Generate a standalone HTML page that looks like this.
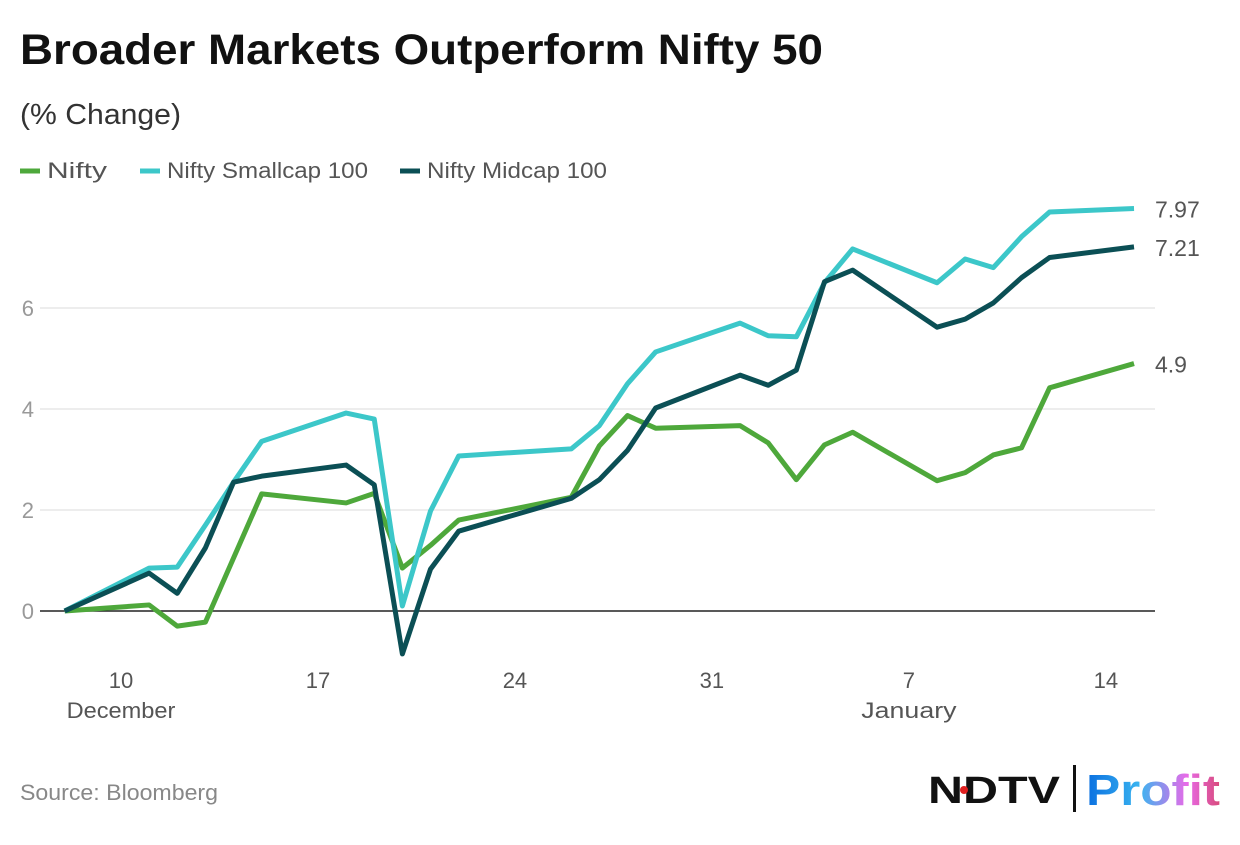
<!DOCTYPE html>
<html><head><meta charset="utf-8"><style>
body{margin:0;background:#fff;width:1240px;height:840px;overflow:hidden;font-family:"Liberation Sans",sans-serif}
</style></head><body>
<svg width="1240" height="840" xmlns="http://www.w3.org/2000/svg">
<defs><linearGradient id="pg" x1="0" x2="1"><stop offset="0" stop-color="#0a6fe0"/><stop offset="0.4" stop-color="#3ab4f0"/><stop offset="0.75" stop-color="#e86ae8"/><stop offset="1" stop-color="#d84a7a"/></linearGradient></defs>
<text x="20" y="64" font-size="43" font-weight="bold" fill="#111" textLength="803" lengthAdjust="spacingAndGlyphs">Broader Markets Outperform Nifty 50</text>
<text x="20" y="124" font-size="29" fill="#333" textLength="161" lengthAdjust="spacingAndGlyphs">(% Change)</text>
<g id="legend" font-size="22" fill="#555"></g>
<g id="grid"></g><g id="lines"></g>
<text x="20" y="800" font-size="22" fill="#888" textLength="198" lengthAdjust="spacingAndGlyphs">Source: Bloomberg</text>
<g>
<text x="928" y="803" font-size="38" font-weight="bold" fill="#111" textLength="132" lengthAdjust="spacingAndGlyphs">NDTV</text>
<circle cx="964" cy="790" r="4" fill="#e02020"/>
<rect x="1073" y="765" width="3" height="47" fill="#111"/>
<text x="1086" y="805" font-size="44" font-weight="bold" fill="url(#pg)" textLength="134" lengthAdjust="spacingAndGlyphs">Profit</text>
</g>
</svg>
<script>
const days=[0,3,4,5,6,7,10,11,12,13,14,18,19,20,21,24,25,26,27,28,31,32,33,34,35,38];
const nifty=[0,0.12,-0.3,-0.22,1.05,2.32,2.14,2.33,0.85,1.3,1.8,2.25,3.27,3.87,3.62,3.67,3.33,2.6,3.29,3.54,2.58,2.74,3.09,3.23,4.42,4.9];
const smallcap=[0,0.85,0.87,1.7,2.55,3.36,3.92,3.8,0.1,1.98,3.07,3.21,3.67,4.5,5.13,5.7,5.45,5.43,6.5,7.17,6.5,6.97,6.8,7.41,7.9,7.97];
const midcap=[0,0.75,0.35,1.25,2.55,2.67,2.89,2.5,-0.85,0.83,1.58,2.23,2.6,3.18,4.02,4.67,4.47,4.77,6.52,6.75,5.62,5.78,6.1,6.6,7.0,7.21];
const yTicks=[0,2,4,6];
const xTickDays=[2,9,16,23,30,37];
const xTickLabels=["10","17","24","31","7","14"];
const monthLabels=[["December",2],["January",30]];
const endLabels=["4.9","7.97","7.21"];
const NS="http://www.w3.org/2000/svg";
const X=d=>64.7+d*28.14, Y=v=>611-v*50.5;
function mk(t,a,p){const e=document.createElementNS(NS,t);for(const k in a)e.setAttribute(k,a[k]);p.appendChild(e);return e;}
const grid=document.getElementById('grid');
yTicks.forEach(v=>{
 const l=mk('line',{x1:40,x2:1155,y1:Y(v),y2:Y(v),stroke:v===0?'#222':'#e2e2e2','stroke-width':v===0?1.5:1.2},grid);
 
 
 const t=mk('text',{x:34,y:Y(v)+8,'font-size':22,fill:'#999','text-anchor':'end'},grid);t.textContent=v;
 
 
});
xTickDays.forEach((d,i)=>{
 const t=mk('text',{x:X(d),y:688,'font-size':22,fill:'#555','text-anchor':'middle'},grid);t.textContent=xTickLabels[i];
 
 
});
monthLabels.forEach(m=>{
 const t=mk('text',{x:X(m[1]),y:718,'font-size':22,fill:'#555','text-anchor':'middle',textLength:m[0].length*13.6,lengthAdjust:'spacingAndGlyphs'},grid);t.textContent=m[0];
 
 
});
const series=[["Nifty",nifty,"#4ea83b"],["Nifty Smallcap 100",smallcap,"#3cc7c9"],["Nifty Midcap 100",midcap,"#0b4f55"]];
const legX=[20,140,400];
const legW=[60,201,180];
const lg=document.getElementById('legend');
const lines=document.getElementById('lines');
series.forEach((s,i)=>{
 const lx=legX[i];
 mk('line',{x1:lx,x2:lx+20,y1:171,y2:171,stroke:s[2],'stroke-width':5},lg);
 const t=mk('text',{x:lx+27,y:178,textLength:legW[i],lengthAdjust:'spacingAndGlyphs'},lg);t.textContent=s[0];
 
 
 const p=mk('polyline',{points:days.map((d,j)=>X(d)+','+Y(s[1][j])).join(' '),fill:'none',stroke:s[2],'stroke-width':5,'stroke-linejoin':'round'},lines);
 
 
 const e=mk('text',{x:1155,y:Y(s[1][s[1].length-1])+9,'font-size':23,fill:'#555'},lines);e.textContent=endLabels[i];
 
 
});
</script>
</body></html>
